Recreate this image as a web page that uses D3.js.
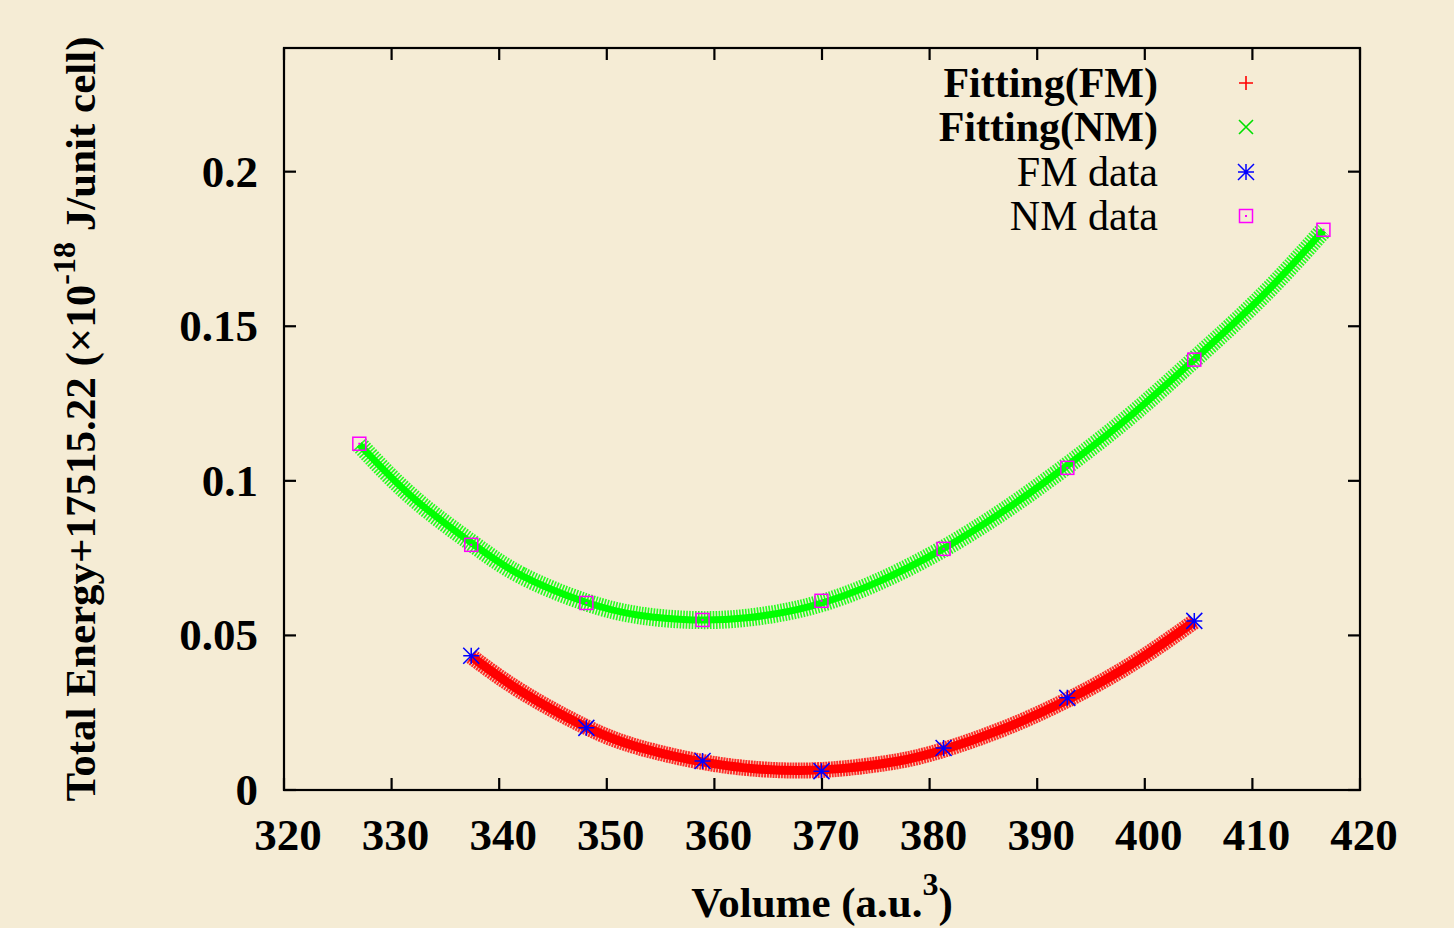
<!DOCTYPE html>
<html>
<head>
<meta charset="utf-8">
<script src="https://cdn.jsdelivr.net/npm/d3@7"></script>
<style>
  body { margin: 0; background: #f5ecd5; }
  svg { display: block; font-family: "Liberation Serif", "Times New Roman", serif; }
</style>
</head>
<body>
<div id="chart"></div>
<script>
// ---------------------------------------------------------------------------
// Data

const fmDataVol = [337.4, 348.1, 358.9, 369.95, 381.3, 392.8, 404.6];
const fmDataE   = [0.0434, 0.0201, 0.0094, 0.0061, 0.0136, 0.0298, 0.0547];

const nmDataVol = [327.0, 337.4, 348.1, 358.9, 369.95, 381.3, 392.8, 404.6, 416.6];
const nmDataE   = [0.1120, 0.0793, 0.0605, 0.0550, 0.0612, 0.0780, 0.1042, 0.1392, 0.1812];

// fitted curves, read at a handful of volumes
const fmFitVol = [337.4, 342, 348, 353, 359, 364, 368, 372, 377, 381.3, 387, 393, 399, 404.6];
const fmFitE   = [0.0432, 0.0320, 0.0205, 0.0138, 0.0090, 0.0068, 0.0063, 0.0070, 0.0093, 0.0130, 0.0200, 0.0295, 0.0412, 0.0545];

const nmFitVol = [327, 332, 337.4, 342, 348, 353, 358, 363, 369, 375, 381, 387, 393, 399, 405, 411, 416.6];
const nmFitE   = [0.1118, 0.0945, 0.0800, 0.0695, 0.0608, 0.0565, 0.0550, 0.0557, 0.0595, 0.0670, 0.0775, 0.0905, 0.1055, 0.1220, 0.1405, 0.1600, 0.1810];

const xTicks = [320, 330, 340, 350, 360, 370, 380, 390, 400, 410, 420];
const yTicks = [0, 0.05, 0.1, 0.15, 0.2];
const legendLabels = ['Fitting(FM)', 'Fitting(NM)', 'FM data', 'NM data'];

// ---------------------------------------------------------------------------
// Layout

const width = 1454, height = 928;
const margin = {left: 284, right: 94, top: 48, bottom: 138};

const svg = d3.select('#chart').append('svg')
  .attr('width', width)
  .attr('height', height);

svg.append('rect').attr('width', width).attr('height', height).attr('fill', '#f5ecd5');

const x = d3.scaleLinear().domain([320, 420]).range([margin.left, width - margin.right]);
const y = d3.scaleLinear().domain([0, 0.24]).range([height - margin.bottom, margin.top]);

// fitting bands
const line = d3.line()
  .x(d => x(d[0]))
  .y(d => y(d[1]))
  .curve(d3.curveNatural);

const nmFit = d3.zip(nmFitVol, nmFitE);
const fmFit = d3.zip(fmFitVol, fmFitE);

svg.append('path').attr('d', line(nmFit))
  .attr('fill', 'none').attr('stroke', '#00ff00')
  .attr('stroke-width', 18).attr('stroke-dasharray', '1.6 1.4').attr('opacity', 0.85);
svg.append('path').attr('d', line(nmFit))
  .attr('fill', 'none').attr('stroke', '#00ff00').attr('stroke-width', 7);

svg.append('path').attr('d', line(fmFit))
  .attr('fill', 'none').attr('stroke', '#ff0000')
  .attr('stroke-width', 16).attr('stroke-dasharray', '2 0.8').attr('opacity', 0.8);
svg.append('path').attr('d', line(fmFit))
  .attr('fill', 'none').attr('stroke', '#ff0000').attr('stroke-width', 9);

// marker shapes
function drawMarker(g, type, cx, cy) {
  const s = 8;
  if (type === 'plus') {
    g.append('path').attr('d', `M${cx - 7},${cy}H${cx + 7}M${cx},${cy - 7}V${cy + 7}`)
      .attr('stroke', '#ff0000').attr('stroke-width', 1.6);
  } else if (type === 'cross') {
    g.append('path').attr('d', `M${cx - 7},${cy - 7}L${cx + 7},${cy + 7}M${cx - 7},${cy + 7}L${cx + 7},${cy - 7}`)
      .attr('stroke', '#00e000').attr('stroke-width', 1.6);
  } else if (type === 'star') {
    g.append('path').attr('d', `M${cx - s},${cy}H${cx + s}M${cx},${cy - s}V${cy + s}` +
      `M${cx - s},${cy - s}L${cx + s},${cy + s}M${cx - s},${cy + s}L${cx + s},${cy - s}`)
      .attr('stroke', '#0000ff').attr('stroke-width', 1.5);
  } else {
    g.append('rect').attr('x', cx - 6.5).attr('y', cy - 6.5).attr('width', 13).attr('height', 13)
      .attr('fill', 'none').attr('stroke', '#ff00ff').attr('stroke-width', 1.5);
    g.append('rect').attr('x', cx - 1).attr('y', cy - 1).attr('width', 2).attr('height', 2)
      .attr('fill', '#ff00ff');
  }
}

const pts = svg.append('g');
d3.zip(nmDataVol, nmDataE).forEach(d => drawMarker(pts, 'square', x(d[0]), y(d[1])));
d3.zip(fmDataVol, fmDataE).forEach(d => drawMarker(pts, 'star', x(d[0]), y(d[1])));

// ---------------------------------------------------------------------------
// Axes (gnuplot style: mirrored inward ticks)

const tick = 12;
const axisG = svg.append('g').attr('stroke', '#000').attr('stroke-width', 2.2);
axisG.append('rect')
  .attr('x', x(320)).attr('y', y(0.24))
  .attr('width', x(420) - x(320)).attr('height', y(0) - y(0.24))
  .attr('fill', 'none');

xTicks.forEach(v => {
  axisG.append('line').attr('x1', x(v)).attr('x2', x(v)).attr('y1', y(0)).attr('y2', y(0) - tick);
  axisG.append('line').attr('x1', x(v)).attr('x2', x(v)).attr('y1', y(0.24)).attr('y2', y(0.24) + tick);
});
yTicks.forEach(v => {
  axisG.append('line').attr('x1', x(320)).attr('x2', x(320) + tick).attr('y1', y(v)).attr('y2', y(v));
  axisG.append('line').attr('x1', x(420)).attr('x2', x(420) - tick).attr('y1', y(v)).attr('y2', y(v));
});

svg.append('g').selectAll('text').data(xTicks).join('text')
  .attr('x', d => x(d) + 4).attr('y', 850)
  .attr('text-anchor', 'middle')
  .attr('font-size', 45).attr('font-weight', 'bold')
  .text(d => d);

svg.append('g').selectAll('text').data(yTicks).join('text')
  .attr('x', 258).attr('y', d => y(d) + 15)
  .attr('text-anchor', 'end')
  .attr('font-size', 45).attr('font-weight', 'bold')
  .text(d => d);

// axis titles
const xt = svg.append('text')
  .attr('x', 822).attr('y', 917)
  .attr('text-anchor', 'middle')
  .attr('font-size', 43).attr('font-weight', 'bold');
xt.append('tspan').text('Volume (a.u.');
xt.append('tspan').attr('dy', -22).attr('font-size', 32).text('3');
xt.append('tspan').attr('dy', 22).text(')');

const yt = svg.append('text')
  .attr('transform', 'translate(95,419) rotate(-90)')
  .attr('text-anchor', 'middle')
  .attr('font-size', 43).attr('font-weight', 'bold');
yt.append('tspan').text('Total Energy+17515.22 (×10');
yt.append('tspan').attr('dy', -20).attr('font-size', 32).text('-18');
yt.append('tspan').attr('dy', 20).text(' J/unit cell)');

// ---------------------------------------------------------------------------
// Legend

const legendY = [83, 127, 172, 216];
const legendTypes = ['plus', 'cross', 'star', 'square'];
const legend = svg.append('g');
legendLabels.forEach((lab, i) => {
  legend.append('text')
    .attr('x', 1158).attr('y', legendY[i] + 14)
    .attr('text-anchor', 'end')
    .attr('font-size', 42)
    .attr('font-weight', i < 2 ? 'bold' : 'normal')
    .text(lab);
  drawMarker(legend, legendTypes[i], 1246, legendY[i]);
});
</script>
</body>
</html>
